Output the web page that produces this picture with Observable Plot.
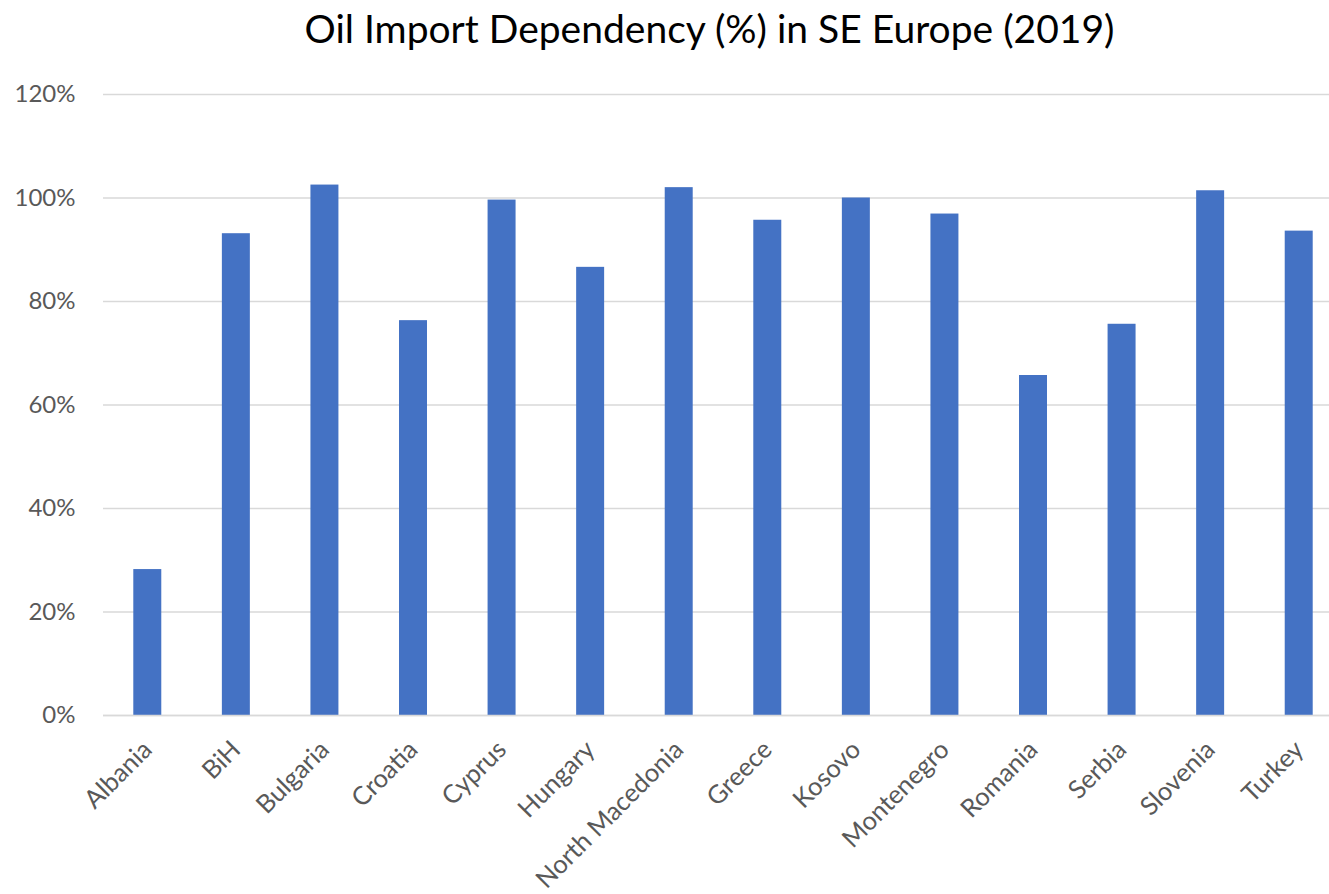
<!DOCTYPE html>
<html>
<head>
<meta charset="utf-8">
<script src="https://cdn.jsdelivr.net/npm/d3@7"></script>
<script src="https://cdn.jsdelivr.net/npm/@observablehq/plot@0.6"></script>
<style>
  html, body { margin: 0; padding: 0; background: #fff; overflow: hidden; }
  #title { height: 60px; width: 1329px; text-align: center; font-family: Lato, "Open Sans", sans-serif; font-size: 39px; color: #000; line-height: 56px; padding-left: 90px; box-sizing: border-box; }
</style>
</head>
<body>
<div id="title">Oil Import Dependency (%) in SE Europe (2019)</div>
<div id="chart"></div>
<script>
const countries = ["Albania", "BiH", "Bulgaria", "Croatia", "Cyprus", "Hungary", "North Macedonia", "Greece", "Kosovo", "Montenegro", "Romania", "Serbia", "Slovenia", "Turkey"];
const dependency = [28.2, 93.1, 102.5, 76.3, 99.6, 86.6, 102.0, 95.7, 100.0, 96.9, 65.7, 75.6, 101.4, 93.6];
const yTicks = [0, 20, 40, 60, 80, 100, 120];

const data = countries.map((c, i) => ({country: c, value: dependency[i]}));

const chart = Plot.plot({
  width: 1329,
  height: 834,
  marginTop: 34,
  marginBottom: 179,
  marginLeft: 103,
  marginRight: 0,
  style: {fontFamily: "Lato, 'Open Sans', sans-serif", fontSize: "24px", color: "#595959", background: "#fff"},
  x: {domain: countries, range: [103, 1343], paddingInner: 0.684, paddingOuter: 0.342, align: 0.5, round: false},
  y: {domain: [0, 120], ticks: yTicks, tickFormat: d => d + "%", label: null, tickSize: 0, tickPadding: 28},
  marks: [
    Plot.gridY(yTicks, {stroke: "#d9d9d9", strokeOpacity: 1, strokeWidth: 1.5}),
    Plot.barY(data, {x: "country", y: "value", fill: "#4472c4"}),
    Plot.ruleY([0], {stroke: "#d9d9d9", strokeWidth: 1.5}),
    Plot.axisX({tickRotate: -45, tickSize: 0, tickPadding: 30, fontSize: 25.5, label: null, fill: "#595959"})
  ]
});
document.getElementById("chart").appendChild(chart);
</script>
</body>
</html>
